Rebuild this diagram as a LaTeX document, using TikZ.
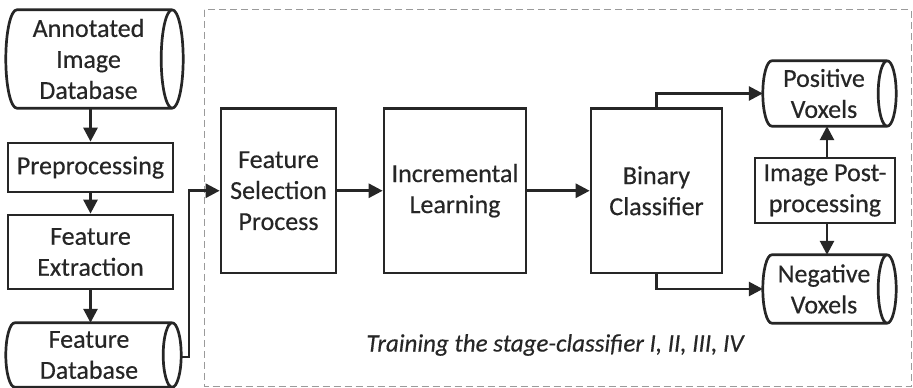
\documentclass[tikz,border=0pt]{standalone}
\usepackage{fontspec}
\setmainfont{Carlito}
\newfontfamily\boxfont{Carlito}[FakeBold=0.35]
\usetikzlibrary{arrows.meta,calc}
\definecolor{ink}{HTML}{262626}
\definecolor{dashgray}{HTML}{9A9A9A}
\tikzset{
  boxline/.style={draw=ink, line width=2.7pt},
  procbox/.style={boxline, rectangle, align=center, inner sep=0pt, text=ink,
    font=\boxfont\fontsize{26}{31}\selectfont},
  dbbody/.style={rectangle, align=center, inner sep=0pt, text=ink,
    font=\boxfont\fontsize{26}{31}\selectfont},
  flow/.style={draw=ink, line width=2.7pt, -{Triangle[length=14pt,width=14pt]}},
  frame/.style={draw=dashgray, line width=1pt, dash pattern=on 7pt off 4pt},
}
% #1 node, #2 ellipse x radius, #3 shift of the drawn body to the right of the text node
\newcommand{\dbdraw}[3]{%
  \draw[boxline, line join=round] let \p1=(#1.north), \p2=(#1.south), \n1={(\y1-\y2)/2} in
    ($(#1.north east)+(#3,0)$) -- ($(#1.north west)+(#3,0)$)
    arc[start angle=90, end angle=270, x radius=#2pt, y radius=\n1]
    -- ($(#1.south east)+(#3,0)$)
    arc[start angle=-90, end angle=90, x radius=#2pt, y radius=\n1]
    arc[start angle=90, end angle=270, x radius=#2pt, y radius=\n1];
}
\begin{document}
\begin{tikzpicture}[x=1pt,y=1pt]
\useasboundingbox (0,0) rectangle (913,388);
\fill[white] (0,0) rectangle (913,388);

% dashed training frame
\draw[frame] (204,378) rectangle (911,1.5);

% left column
\node[dbbody, minimum width=155pt, minimum height=98pt] (adb) at (88.5,329) {Annotated\\Image\\Database};
\node[procbox, minimum width=165pt, minimum height=49pt] (prep) at (90.5,220.5) {Preprocessing};
\node[procbox, minimum width=165pt, minimum height=74pt] (fe) at (90.5,136) {Feature\\Extraction};
\node[dbbody, minimum width=157pt, minimum height=64pt] (fdb) at (89,33) {Feature\\Database};
\dbdraw{adb}{11}{6}
\dbdraw{fdb}{9}{4.5}

% main row
\node[procbox, minimum width=115pt, minimum height=164.5pt] (fsp) at (278.5,197.25) {Feature\\Selection\\Process};
\node[procbox, minimum width=142pt, minimum height=164.5pt] (il) at (455,197.25) {Incremental\\Learning};
\node[procbox, minimum width=131pt, minimum height=164.5pt] (bc) at (656.5,197.25) {Binary\\Classifier};

% right column
\node[dbbody, minimum width=115pt, minimum height=65pt] (pv) at (824,294.5) {Positive\\Voxels};
\node[procbox, minimum width=140pt, minimum height=65pt] (ipp) at (825,197.5) {Image Post-\\processing};
\node[dbbody, minimum width=115pt, minimum height=68pt] (nv) at (824,99) {Negative\\Voxels};
\dbdraw{pv}{9}{5.5}
\dbdraw{nv}{9}{5.5}

% connector end points
\coordinate (fdbout) at ($(fdb.east)+(13.5,-2)$);
\coordinate (pvin) at ($(pv.west)+(-3.5,0)$);
\coordinate (nvin) at ($(nv.west)+(-3.5,0)$);

% connectors
\draw[flow] (prep.north |- adb.south) -- (prep.north);
\draw[flow] (prep.south) -- (fe.north);
\draw[flow] (fe.south) -- (fe.south |- fdb.north);
\draw[flow] (fdbout) -| (189,197.25) -- (fsp.west);
\draw[flow] (fsp.east) -- (il.west);
\draw[flow] (il.east) -- (bc.west);
\draw[flow] (bc.north) |- (pvin);
\draw[flow] (bc.south) |- (nvin);
\draw[flow] (ipp.north -| 827,0) -- (pv.south -| 827,0);
\draw[flow] (ipp.south -| 827,0) -- (nv.north -| 827,0);

% caption
\node[text=ink, font=\boxfont\fontsize{25}{31}\selectfont\itshape] (cap) at (555,43) {Training the stage-classifier I, II, III, IV};
\end{tikzpicture}
\end{document}
